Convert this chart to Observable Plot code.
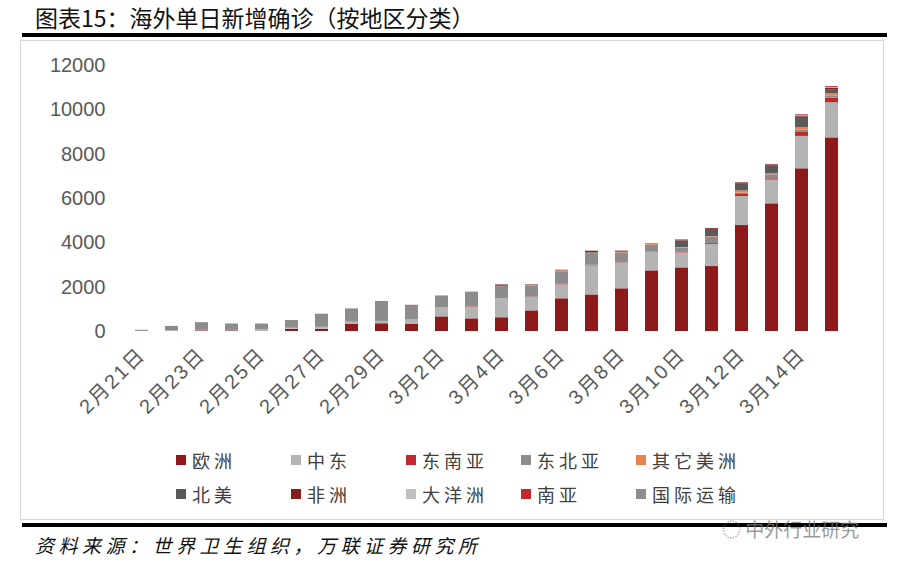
<!DOCTYPE html>
<html>
<head>
<meta charset="utf-8">
<script src="https://cdn.jsdelivr.net/npm/d3@7"></script>
<script src="https://cdn.jsdelivr.net/npm/@observablehq/plot@0.6"></script>
<style>
  html, body { margin: 0; padding: 0; background: #fff; }
  #wrap { position: relative; width: 909px; height: 569px; overflow: hidden; background: #fff;
          font-family: "Liberation Sans", "Noto Sans CJK SC", sans-serif; }
  .abs { position: absolute; }
  #title { left: 35px; top: 0px; font-size: 23px; color: #111; font-family: "Noto Sans CJK SC", sans-serif; white-space: nowrap; }
  .rule { left: 22px; width: 865px; height: 4px; background: #000; }
  #box { left: 20px; top: 40px; width: 864px; height: 480px; border: 1px solid #d9d9d9; box-sizing: border-box; }
  #chart { left: 0; top: 0; }
  .leg { font-family: "Noto Sans CJK SC", sans-serif; font-size: 18px; color: #404040; letter-spacing: 4px; white-space: nowrap; display: flex; align-items: center; }
  .sw { width: 10px; height: 10px; margin-right: 6px; display: inline-block; }
  #source { left: 35px; top: 531px; font-family: "Noto Sans CJK SC", sans-serif; font-size: 19px; font-style: italic; letter-spacing: 4.5px; color: #111; white-space: nowrap; }
  #wm { left: 722px; top: 515px; font-family: "Noto Sans CJK SC", sans-serif; font-size: 19px; color: rgba(120,120,120,0.75); white-space: nowrap; }
</style>
</head>
<body>
<div id="wrap">
  <div id="title" class="abs">图表15：海外单日新增确诊（按地区分类）</div>
  <div class="abs rule" style="top:33px"></div>
  <div id="box" class="abs"></div>
  <div id="chart" class="abs"></div>
  <div id="legend"></div>
  <div class="abs rule" style="top:523px"></div>
  <div id="source" class="abs">资料来源：世界卫生组织，万联证券研究所</div>
  <div id="wm" class="abs">◌ 中外行业研究</div>
</div>
<script>
const dates = ["2月21日","2月22日","2月23日","2月24日","2月25日","2月26日","2月27日","2月28日","2月29日",
  "3月1日","3月2日","3月3日","3月4日","3月5日","3月6日","3月7日","3月8日","3月9日","3月10日",
  "3月11日","3月12日","3月13日","3月14日","3月15日"];
const labelDates = ["2月21日","2月23日","2月25日","2月27日","2月29日","3月2日","3月4日","3月6日","3月8日","3月10日","3月12日","3月14日"];
const yTicks = [0, 2000, 4000, 6000, 8000, 10000, 12000];

const regions = ["欧洲","中东","东南亚","东北亚","其它美洲","北美","非洲","大洋洲","南亚","国际运输"];
const colors  = ["#8c1a1a","#b4b4b4","#c4282d","#8c8c8c","#e8834e","#5a5a5a","#86201f","#c0c0c0","#c4282d","#8e8e8e"];

const europe     = [0,0,30,30,0,100,100,330,350,330,660,570,620,930,1475,1650,1925,2735,2870,2930,4780,5760,7340,8735];
const middleEast = [5,20,20,20,90,45,90,90,105,210,420,540,860,600,630,1310,1170,855,675,990,1310,1070,1460,1580];
const seAsia     = [0,0,0,0,0,0,0,0,0,0,0,20,0,20,20,30,45,20,45,45,90,60,180,210];
const neAsia     = [50,210,350,290,200,350,590,600,900,600,525,630,540,510,570,525,405,285,180,300,60,180,105,105];
const otherAm    = [0,0,0,0,0,0,0,0,0,0,0,0,0,20,30,20,20,40,20,20,105,60,120,105];
const northAm    = [0,0,0,0,40,0,0,0,0,20,0,0,30,10,10,30,20,10,300,315,300,330,480,150];
const africa     = [0,0,0,0,0,0,0,0,0,20,0,10,50,20,0,50,40,0,0,40,60,60,40,90];
const oceania    = [0,0,0,0,0,0,0,0,0,0,0,0,0,0,0,0,0,0,0,0,0,0,20,30];
const southAsia  = [0,0,0,0,0,0,0,0,0,0,0,0,0,0,30,10,0,20,40,0,0,0,30,40];
const intl       = [0,0,0,0,0,0,0,0,0,0,0,0,0,0,0,0,0,0,0,0,0,0,0,0];

const series = [europe, middleEast, seAsia, neAsia, otherAm, northAm, africa, oceania, southAsia, intl];
const table = [];
regions.forEach((r, i) => dates.forEach((d, j) => table.push({region: r, date: d, value: series[i][j]})));

const chart = Plot.plot({
  width: 909,
  height: 440,
  marginTop: 65,
  marginBottom: 109,
  marginLeft: 117,
  marginRight: 52,
  style: { fontFamily: "Liberation Sans, Noto Sans CJK SC, sans-serif", background: "transparent" },
  x: { domain: dates, padding: 0.55 },
  y: { domain: [0, 12000] },
  color: { domain: regions, range: colors },
  marks: [
    Plot.barY(table, { x: "date", y: "value", fill: "region" }),
    Plot.axisY({ ticks: yTicks, tickFormat: d => String(d), tickSize: 0, tickPadding: 12, fontSize: 20, fill: "#595959", label: null }),
    Plot.axisX({ ticks: labelDates, tickSize: 0, tickRotate: -45, tickPadding: 20, fontSize: 20, fill: "#595959", label: null, fontFamily: "Liberation Sans, Noto Sans CJK SC, sans-serif" })
  ]
});
chart.querySelectorAll('[aria-label="x-axis tick label"] text').forEach(t => t.setAttribute("letter-spacing", "2"));
document.getElementById("chart").appendChild(chart);

const legend = document.getElementById("legend");
const colX = [176, 291, 406, 521, 636];
const rowY = [447, 481];
regions.forEach((r, i) => {
  const el = document.createElement("div");
  el.className = "abs leg";
  el.style.left = colX[i % 5] + "px";
  el.style.top = rowY[Math.floor(i / 5)] + "px";
  el.innerHTML = `<span class="sw" style="background:${colors[i]}"></span><span>${r}</span>`;
  legend.appendChild(el);
});
</script>
</body>
</html>
